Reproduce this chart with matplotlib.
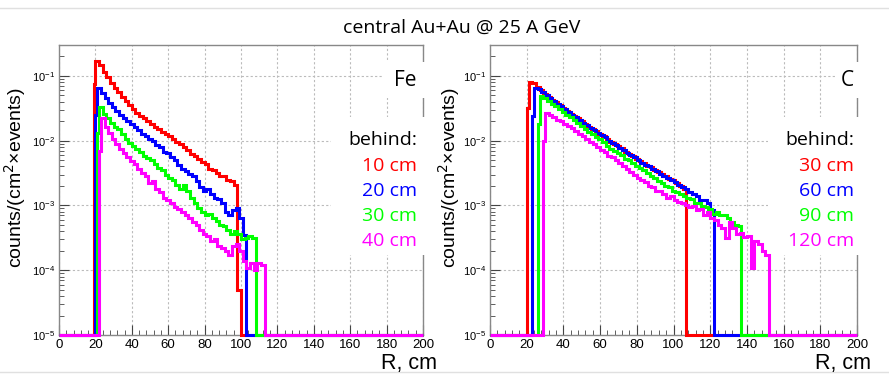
import numpy as np
import matplotlib
matplotlib.use('Agg')
import matplotlib.pyplot as plt
from matplotlib.patches import Rectangle
from matplotlib.lines import Line2D
from matplotlib.ticker import MultipleLocator, LogLocator, NullFormatter

plt.rcParams['font.family'] = ['Liberation Sans', 'DejaVu Sans']

FLOOR = 1e-5
colors = ['#ff0000', '#0000ff', '#00ff00', '#ff00ff']

# ---- Fe absorber: distance behind 10/20/30/40 cm ----
fe_labels = ['10 cm', '20 cm', '30 cm', '40 cm']
fe_start = [19, 20, 21, 22]          # edge of first (1 cm) bin, then 2 cm bins
fe_first = [0.075, 0.025, 0.013, 0.007]
fe_10 = [0.17, 0.145, 0.115, 0.095, 0.078, 0.066, 0.056, 0.048, 0.041, 0.035,
         0.031, 0.027, 0.024, 0.022, 0.020, 0.018, 0.0165, 0.0152, 0.0138, 0.0125,
         0.0118, 0.0105, 0.0095, 0.0090, 0.0080, 0.0072, 0.0063, 0.0058, 0.0052, 0.0047,
         0.0043, 0.0037, 0.0035, 0.0032, 0.0029, 0.0028, 0.0025, 0.0024, 0.0021, 5e-5]
fe_20 = [0.065, 0.055, 0.046, 0.038, 0.033, 0.029, 0.025, 0.022, 0.020, 0.018,
         0.016, 0.0145, 0.0128, 0.0118, 0.0106, 0.0098, 0.0085, 0.0080, 0.0068, 0.0065,
         0.0056, 0.0050, 0.0042, 0.0037, 0.0034, 0.0031, 0.0028, 0.0024, 0.0019, 0.0017,
         0.0018, 0.0015, 0.0013, 0.00125, 0.0011, 0.00078, 0.00072, 0.00085, 0.0009, 0.00065,
         0.00035]
fe_30 = [0.033, 0.026, 0.022, 0.019, 0.0165, 0.0150, 0.0125, 0.0108, 0.0093, 0.0083,
         0.0074, 0.0066, 0.0058, 0.0054, 0.0050, 0.0044, 0.0038, 0.0035, 0.0030, 0.0027,
         0.0025, 0.0021, 0.0018, 0.0021, 0.0017, 0.0013, 0.0011, 0.0009, 0.00078, 0.00072,
         0.00075, 0.00063, 0.00058, 0.00050, 0.00048, 0.00042, 0.00036, 0.00040, 0.00036, 0.00030,
         0.00031, 0.00034, 0.00032]
fe_40 = [0.022, 0.016, 0.013, 0.0105, 0.0088, 0.0075, 0.0064, 0.0055, 0.0049, 0.0043,
         0.0037, 0.0032, 0.0029, 0.0022, 0.0024, 0.0018, 0.0016, 0.0013, 0.0012, 0.0011,
         0.00095, 0.00088, 0.00080, 0.00072, 0.00065, 0.00055, 0.00050, 0.00042, 0.00036, 0.00034,
         0.00028, 0.00030, 0.00024, 0.00022, 0.00020, 0.00017, 0.00024, 0.00025, 0.00020, 0.00014,
         0.00011, 0.00013, 0.00010, 0.00013, 0.00012]

# ---- C absorber: distance behind 30/60/90/120 cm ----
c_labels = ['30 cm', '60 cm', '90 cm', '120 cm']
c_start = [20, 23, 26, 29]
c_first = [0.032, 0.024, 0.018, 0.010]
c_30 = [0.080, 0.078, 0.068, 0.060, 0.052, 0.047, 0.043, 0.039, 0.035, 0.032,
        0.029, 0.026, 0.024, 0.022, 0.020, 0.018, 0.0163, 0.0152, 0.0140, 0.0128,
        0.0118, 0.0107, 0.0096, 0.0090, 0.0082, 0.0076, 0.0068, 0.0062, 0.0058, 0.0053,
        0.0049, 0.0045, 0.0041, 0.0039, 0.0035, 0.0033, 0.0031, 0.0028, 0.0026, 0.0025,
        0.0022, 0.0020, 0.0018]
c_60 = [0.066, 0.063, 0.056, 0.050, 0.045, 0.041, 0.037, 0.034, 0.031, 0.028,
        0.025, 0.023, 0.021, 0.019, 0.0172, 0.0158, 0.0145, 0.0132, 0.0122, 0.0112,
        0.0100, 0.0093, 0.0085, 0.0078, 0.0071, 0.0064, 0.0060, 0.0055, 0.0050, 0.0046,
        0.0042, 0.0040, 0.0036, 0.0034, 0.0031, 0.0029, 0.0027, 0.0025, 0.0023, 0.0021,
        0.0019, 0.0018, 0.0016, 0.0015, 0.0014, 0.0012, 0.0012, 0.0011, 0.00085]
c_90 = [0.049, 0.045, 0.041, 0.037, 0.034, 0.031, 0.028, 0.025, 0.023, 0.021,
        0.019, 0.017, 0.0150, 0.0135, 0.0125, 0.0115, 0.0105, 0.0095, 0.0082, 0.0075,
        0.0070, 0.0064, 0.0060, 0.0053, 0.0050, 0.0046, 0.0041, 0.0038, 0.0035, 0.0032,
        0.0029, 0.0027, 0.0024, 0.0022, 0.0020, 0.0019, 0.0017, 0.0016, 0.0015, 0.0014,
        0.0013, 0.00125, 0.0011, 0.0011, 0.00098, 0.00095, 0.00088, 0.00075, 0.00080, 0.00070,
        0.00072, 0.00063, 0.00055, 0.00050, 0.00048]
c_120 = [0.027, 0.025, 0.023, 0.021, 0.020, 0.018, 0.0168, 0.0155, 0.0140, 0.0128,
         0.0117, 0.0106, 0.0097, 0.0088, 0.0080, 0.0072, 0.0066, 0.0058, 0.0055, 0.0050,
         0.0046, 0.0040, 0.0036, 0.0033, 0.0030, 0.0027, 0.0025, 0.0023, 0.0020, 0.0019,
         0.0017, 0.00165, 0.0015, 0.0013, 0.0014, 0.0012, 0.00115, 0.0011, 0.0010, 0.00095,
         0.00098, 0.00085, 0.00088, 0.00070, 0.00080, 0.00065, 0.00060, 0.00050, 0.00045, 0.00032,
         0.00055, 0.00045, 0.00036, 0.00038, 0.00033, 0.00034, 0.00011, 0.00028, 0.00025, 0.00020,
         0.00017]


def draw_panel(ax, starts, firsts, series, material, labels):
    for col, s, f, vals in zip(colors, starts, firsts, series):
        edges = np.r_[0, s, s + 1 + 2 * np.arange(len(vals) + 1), 200]
        heights = np.r_[FLOOR, f, vals, FLOOR]
        ax.stairs(heights, edges, color=col, lw=2.2, baseline=None,
                  clip_on=False, zorder=4)

    ax.set_yscale('log')
    ax.set_xlim(0, 200)
    ax.set_ylim(FLOOR, 0.3)
    ax.xaxis.set_major_locator(MultipleLocator(20))
    ax.xaxis.set_minor_locator(MultipleLocator(4))
    ax.yaxis.set_major_locator(LogLocator(numticks=10))
    ax.yaxis.set_minor_locator(LogLocator(subs=np.arange(2, 10), numticks=20))
    ax.yaxis.set_minor_formatter(NullFormatter())
    ax.tick_params(which='both', direction='in', top=False, right=False, color='#444444')
    ax.tick_params(which='major', length=7)
    ax.tick_params(which='minor', length=3.5)
    ax.tick_params(axis='x', labelsize=9.5, pad=3)
    ax.tick_params(axis='y', labelsize=8, pad=3)
    ax.grid(True, which='major', color='#bbbbbb', ls=(0, (2, 2)), lw=0.8)
    ax.set_axisbelow(True)
    for sp in ax.spines.values():
        sp.set_color('#888888')
        sp.set_linewidth(1.0)

    # white boxes behind the labels (they hide grid and frame, as in the original)
    x0 = 0.747 if material == 'Fe' else 0.757
    ax.add_patch(Rectangle((x0, 0.276), 1.006 - x0, 0.477, transform=ax.transAxes,
                           facecolor='white', edgecolor='none', clip_on=False, zorder=3))
    x1 = 0.887 if material == 'Fe' else 0.943
    ax.add_patch(Rectangle((x1, 0.817), 1.006 - x1, 0.124, transform=ax.transAxes,
                           facecolor='white', edgecolor='none', clip_on=False, zorder=3))

    xt = 0.9835 if material == 'Fe' else 0.992
    ax.text(xt, 0.879, material, transform=ax.transAxes, ha='right', va='center',
            fontsize=15, family='Open Sans', zorder=5)
    ax.text(xt, 0.672, 'behind:', transform=ax.transAxes, ha='right', va='center',
            fontsize=14, family='Open Sans', zorder=5)
    for i, (lab, col) in enumerate(zip(labels, colors)):
        ax.text(xt, 0.584 - 0.087 * i, lab, transform=ax.transAxes, ha='right',
                va='center', fontsize=14, family='Open Sans', color=col, zorder=5)


fig = plt.figure(figsize=(8.89, 3.74), dpi=100)
ax1 = fig.add_axes([59 / 889, 39 / 374, 364 / 889, 290 / 374])
ax2 = fig.add_axes([490 / 889, 39 / 374, 367 / 889, 290 / 374])

draw_panel(ax1, fe_start, fe_first, [fe_10, fe_20, fe_30, fe_40], 'Fe', fe_labels)
draw_panel(ax2, c_start, c_first, [c_30, c_60, c_90, c_120], 'C', c_labels)

fig.text(462 / 889, 1 - 28 / 374, 'central Au+Au @ 25 A GeV', ha='center', va='center',
         fontsize=14, family='Open Sans')
for xl in (15 / 889, 449 / 889):
    fig.text(xl, 1 - 178 / 374, 'counts/(cm$^2$\u00d7events)', rotation=90,
             ha='center', va='center', fontsize=14)
for xr in (437 / 889, 871 / 889):
    fig.text(xr, 1 - 364 / 374, 'R, cm', ha='right', va='center', fontsize=15.5)

# thin slide separator lines
for yy in (1 - 8 / 374, 1 - 372 / 374):
    fig.add_artist(Line2D([0, 1], [yy, yy], transform=fig.transFigure,
                          color='#e0e0e0', lw=1))

fig.savefig('out.png', dpi=100)
